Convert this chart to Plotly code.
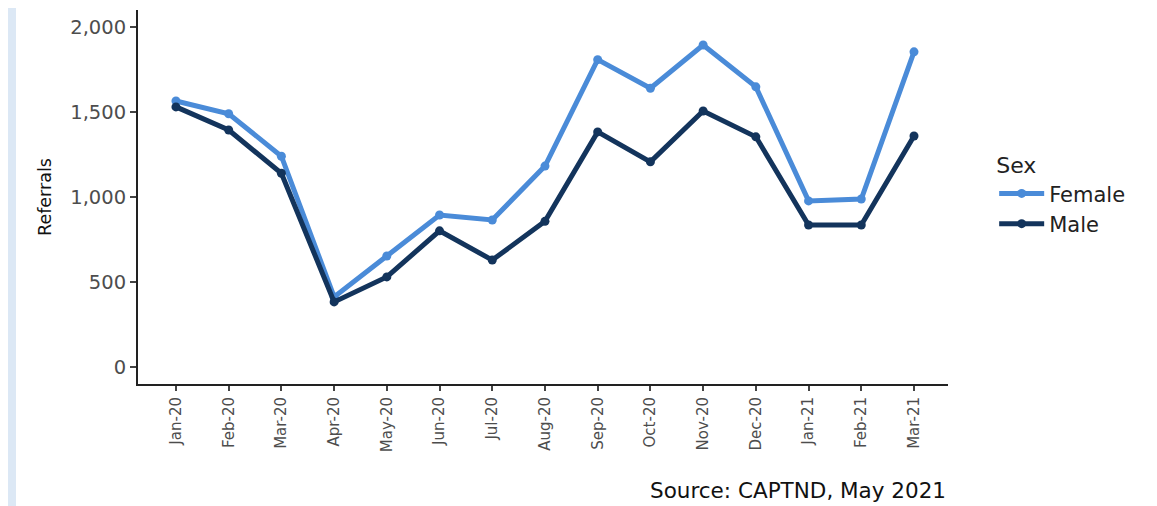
import plotly.graph_objects as go

months = ["Jan-20", "Feb-20", "Mar-20", "Apr-20", "May-20", "Jun-20", "Jul-20", "Aug-20",
          "Sep-20", "Oct-20", "Nov-20", "Dec-20", "Jan-21", "Feb-21", "Mar-21"]
female = [1565, 1490, 1240, 412, 653, 894, 865, 1182, 1808, 1640, 1894, 1648, 977, 988, 1854]
male = [1530, 1394, 1140, 383, 530, 801, 629, 857, 1383, 1207, 1506, 1354, 835, 835, 1359]
y_ticks = [0, 500, 1000, 1500, 2000]
y_tick_text = ["0", "500", "1,000", "1,500", "2,000"]

FEMALE_C = "#4A8BD8"
MALE_C = "#13345C"
WIDE = "DejaVu Sans, Liberation Sans, Arial, sans-serif"

fig = go.Figure()
fig.add_trace(go.Scatter(x=months, y=female, name="Female", mode="lines+markers",
                         line=dict(color=FEMALE_C, width=5), marker=dict(size=9, color=FEMALE_C)))
fig.add_trace(go.Scatter(x=months, y=male, name="Male", mode="lines+markers",
                         line=dict(color=MALE_C, width=5), marker=dict(size=9, color=MALE_C)))

fig.update_layout(
    width=1157, height=506,
    margin=dict(l=130, r=217, t=2, b=130),
    paper_bgcolor="white", plot_bgcolor="white",
    font=dict(family=WIDE, color="#333333"),
    showlegend=True,
    legend=dict(title=dict(text="Sex", font=dict(family=WIDE, size=22, color="#222222")),
                x=1.057, xanchor="left", y=0.64, yanchor="top",
                font=dict(family=WIDE, size=21, color="#222222"), itemwidth=45,
                tracegroupgap=8),
    xaxis=dict(type="category", range=[-0.72, 14.645], showgrid=False,
               showline=True, linecolor="#222222", linewidth=2,
               ticks="outside", ticklen=5, tickcolor="#444444", tickwidth=1.5,
               tickangle=-90, tickfont=dict(family=WIDE, size=15, color="#4d4d4d"),
               zeroline=False),
    yaxis=dict(range=[-100, 2100], tickvals=y_ticks, ticktext=y_tick_text, showgrid=False,
               showline=True, linecolor="#222222", linewidth=2,
               ticks="outside", ticklen=6, tickcolor="#444444", tickwidth=1.5,
               tickfont=dict(family=WIDE, size=19.5, color="#4d4d4d"), zeroline=False,
               title=dict(text="Referrals", font=dict(family=WIDE, size=17.5, color="#111111"),
                          standoff=14)),
    shapes=[dict(type="rect", xref="paper", yref="paper",
                 x0=-130 / 810, x1=-122 / 810, y0=-0.36, y1=1.01,
                 fillcolor="#DCE8F5", line=dict(width=0), layer="below")],
    annotations=[dict(text="Source: CAPTND, May 2021", xref="paper", yref="paper",
                      x=1.0, y=-106 / 374, xanchor="right", yanchor="middle",
                      showarrow=False, font=dict(family=WIDE, size=21.5, color="#111111"))],
)

fig.write_html("out.html")
